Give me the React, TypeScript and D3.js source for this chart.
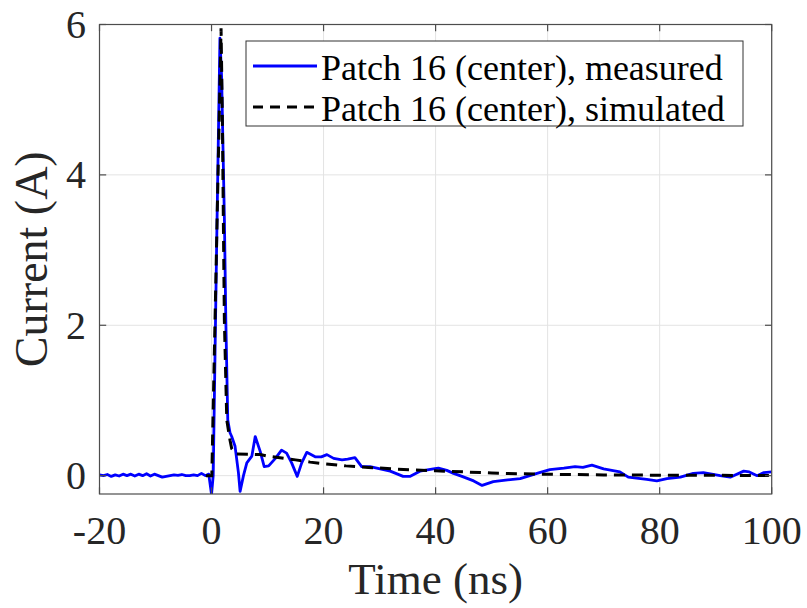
import React from "react";
import * as d3 from "d3";

const xTicks = [-20, 0, 20, 40, 60, 80, 100];
const yTicks = [0, 2, 4, 6];

const measuredT = [
  -20, -19.3, -18.6, -17.9, -17.2, -16.5, -15.8, -15.1, -14.4, -13.7, -13.0, -12.3, -11.6, -10.9,
  -10.2, -9.5, -8.8, -8.1, -7.4, -6.7, -6.0, -5.3, -4.6, -3.9, -3.2, -2.5, -1.8, -1.1, -0.5, 0,
  0.3, 0.9, 1.5, 1.8, 2.3, 2.55, 2.9, 3.3, 3.6, 4.2, 4.8, 5.1, 5.7, 6.3, 7.2, 7.8, 8.7, 9.4,
  10.2, 11.4, 12.5, 13.4, 14.3, 15.3, 16.1, 17, 18.5, 19.6, 20.6, 21.8, 23.3, 24.3, 25.6, 26.8,
  28.3, 30.1, 31.9, 34.2, 35.4, 37.2, 39.6, 40.5, 42, 43.2, 44.7, 46.8, 48.3, 50.3, 52.5, 55.1,
  58.1, 60.4, 62.9, 64.9, 66.3, 67.9, 70, 72.9, 74.4, 77.7, 79.5, 81.3, 83.7, 86, 87.8, 90.8,
  92.6, 95, 96, 97.4, 98.6, 100,
];
const measuredV = [
  0.01, 0.0, 0.015, -0.01, 0.01, -0.005, 0.02, 0.0, 0.02, -0.005, 0.02, 0.0, 0.025, -0.005,
  0.02, 0.0, -0.02, -0.01, 0.0, 0.01, 0.005, 0.015, 0.0, 0.0, 0.01, 0.0, 0.03, 0.0, 0.02, -0.25,
  0.0, 3.0, 5.82, 5.3, 3.4, 2.07, 0.74, 0.57, 0.52, 0.39, 0.04, -0.21, 0.0, 0.17, 0.26, 0.52, 0.32, 0.12,
  0.13, 0.23, 0.34, 0.3, 0.17, -0.01, 0.17, 0.31, 0.25, 0.25, 0.28, 0.23, 0.21, 0.22, 0.24, 0.12,
  0.12, 0.09, 0.06, -0.01, -0.01, 0.06, 0.09, 0.1, 0.07, 0.03, -0.01, -0.07, -0.13, -0.08, -0.06, -0.04,
  0.03, 0.08, 0.1, 0.12, 0.11, 0.14, 0.09, 0.05, -0.02, -0.05, -0.07, -0.04, -0.02, 0.03, 0.04, 0.0,
  -0.02, 0.06, 0.05, 0.0, 0.04, 0.05,
];

const simT = [
  -1, 0.05, 1.7, 1.94, 2.11, 2.29, 2.72, 3.3, 3.6, 4.3, 8.7, 10, 15, 17.6, 20, 24, 28, 32.4, 36,
  40, 45, 50, 55, 60, 70, 80, 90, 100,
];
const simV = [
  0, 0, 5.95, 4.73, 3.4, 2.07, 0.74, 0.47, 0.36, 0.29, 0.28, 0.26, 0.21, 0.18, 0.16, 0.13, 0.11,
  0.09, 0.075, 0.065, 0.05, 0.035, 0.025, 0.018, 0.01, 0.006, 0.004, 0.003,
];

const legendLabels = ["Patch 16 (center), measured", "Patch 16 (center), simulated"];

const W = 807;
const H = 608;
const left = 99.5;
const right = 771.7;
const top = 24.5;
const bottom = 494;
const FONT = "'Liberation Serif', 'Times New Roman', serif";

export default function App() {
  const x = d3.scaleLinear().domain([-20, 100]).range([left, right]);
  const y = d3.scaleLinear().domain([-0.244, 6]).range([bottom, top]);

  const line = d3
    .line<[number, number]>()
    .x((d) => x(d[0]))
    .y((d) => y(d[1]));

  const meas = measuredT.map((t, i) => [t, measuredV[i]] as [number, number]);
  const sim = simT.map((t, i) => [t, simV[i]] as [number, number]);
  const tl = 6.7;
  const axisColor = "#4d4d4d";

  return (
    <svg
      width={W}
      height={H}
      style={{ position: "absolute", left: 0, top: 0, background: "#fff" }}
    >
      <defs>
        <clipPath id="plotclip">
          <rect x={left} y={top} width={right - left} height={bottom - top} />
        </clipPath>
      </defs>
      <rect x={0} y={0} width={W} height={H} fill="#fff" />
      {xTicks.map((t) => (
        <line key={"gx" + t} x1={x(t)} x2={x(t)} y1={top} y2={bottom} stroke="#e3e3e3" strokeWidth={1} />
      ))}
      {yTicks.map((t) => (
        <line key={"gy" + t} x1={left} x2={right} y1={y(t)} y2={y(t)} stroke="#e3e3e3" strokeWidth={1} />
      ))}
      <g clipPath="url(#plotclip)">
        <path d={line(meas) || ""} fill="none" stroke="#0000ff" strokeWidth={2.8} strokeLinejoin="round" />
        <path d={line(sim) || ""} fill="none" stroke="#000" strokeWidth={3} strokeDasharray="11,7" />
      </g>
      <rect x={left} y={top} width={right - left} height={bottom - top} fill="none" stroke={axisColor} strokeWidth={1.2} />
      {xTicks.map((t) => (
        <g key={"tx" + t}>
          <line x1={x(t)} x2={x(t)} y1={bottom} y2={bottom - tl} stroke={axisColor} strokeWidth={1.2} />
          <line x1={x(t)} x2={x(t)} y1={top} y2={top + tl} stroke={axisColor} strokeWidth={1.2} />
          <text x={x(t)} y={544} textAnchor="middle" fontFamily={FONT} fontSize={40} fill="#262626">
            {t}
          </text>
        </g>
      ))}
      {yTicks.map((t) => (
        <g key={"ty" + t}>
          <line x1={left} x2={left + tl} y1={y(t)} y2={y(t)} stroke={axisColor} strokeWidth={1.2} />
          <line x1={right} x2={right - tl} y1={y(t)} y2={y(t)} stroke={axisColor} strokeWidth={1.2} />
          <text x={86} y={y(t) + 13.5} textAnchor="end" fontFamily={FONT} fontSize={40} fill="#262626">
            {t}
          </text>
        </g>
      ))}
      <text x={(left + right) / 2} y={594} textAnchor="middle" fontFamily={FONT} fontSize={45} fill="#262626">
        Time (ns)
      </text>
      <text
        transform={`translate(47, ${(top + bottom) / 2}) rotate(-90)`}
        textAnchor="middle"
        fontFamily={FONT}
        fontSize={46}
        fill="#262626"
      >
        Current (A)
      </text>
      <rect x={246} y={41} width={497} height={85} fill="#fff" stroke="#333" strokeWidth={1} />
      <line x1={253} x2={317} y1={66} y2={66} stroke="#0000ff" strokeWidth={2.8} />
      <line x1={253} x2={317} y1={107} y2={107} stroke="#000" strokeWidth={3} strokeDasharray="10,7" />
      <text x={321} y={79.5} fontFamily={FONT} fontSize={36} fill="#000">
        {legendLabels[0]}
      </text>
      <text x={321} y={120.5} fontFamily={FONT} fontSize={36} fill="#000">
        {legendLabels[1]}
      </text>
    </svg>
  );
}
